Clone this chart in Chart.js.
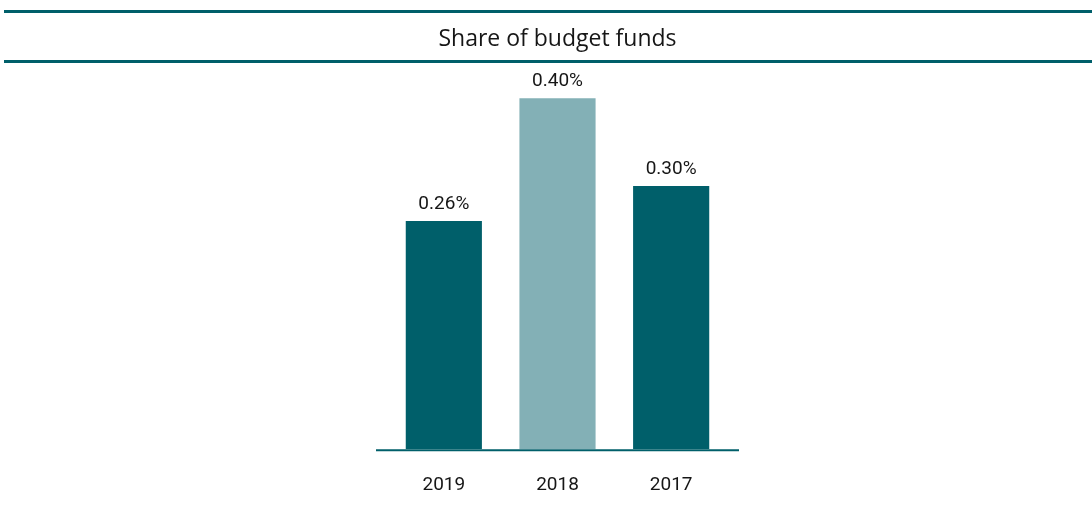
<!DOCTYPE html>
<html>
<head>
<meta charset="utf-8">
<script src="https://cdn.jsdelivr.net/npm/chart.js@4/dist/chart.umd.min.js"></script>
<style>
  html, body { margin: 0; padding: 0; background: #fff; }
  #wrap { width: 1092px; height: 525px; }
</style>
</head>
<body>
<div id="wrap"><canvas id="chart"></canvas></div>
<script>
const years = ['2019', '2018', '2017'];
const shares = [0.26, 0.40, 0.30];

const DARK = '#005f6a';
const LIGHT = '#83b0b6';
const TEXT = '#161616';

// teal rules above/below the title and the short baseline under the bars
const rules = {
    id: 'rules',
    afterDraw(chart) {
        const { ctx, chartArea, scales } = chart;
        ctx.save();
        ctx.strokeStyle = DARK;
        ctx.lineWidth = 3;
        [11.5, 61.5].forEach((y) => {
            ctx.beginPath();
            ctx.moveTo(4, y);
            ctx.lineTo(chart.width, y);
            ctx.stroke();
        });
        const y0 = scales.y.getPixelForValue(0);
        ctx.lineWidth = 2;
        ctx.beginPath();
        ctx.moveTo(chartArea.left - 11, y0 + 1);
        ctx.lineTo(chartArea.right + 11, y0 + 1);
        ctx.stroke();
        ctx.restore();
    },
};

// percentage labels above each bar
const valueLabels = {
    id: 'valueLabels',
    afterDatasetsDraw(chart) {
        const { ctx } = chart;
        const meta = chart.getDatasetMeta(0);
        ctx.save();
        ctx.font = '19px Roboto';
        ctx.fillStyle = TEXT;
        ctx.textAlign = 'center';
        ctx.textBaseline = 'middle';
        meta.data.forEach((bar, i) => {
            ctx.fillText(shares[i].toFixed(2) + '%', bar.x, bar.y - 17);
        });
        ctx.restore();
    },
};

new Chart(document.getElementById('chart'), {
    type: 'bar',
    data: {
        labels: years,
        datasets: [
            {
                data: shares,
                backgroundColor: [DARK, LIGHT, DARK],
                barPercentage: 0.67,
                categoryPercentage: 1,
            },
        ],
    },
    options: {
        responsive: true,
        maintainAspectRatio: false,
        animation: false,
        layout: {
            padding: { left: 387, right: 364, top: 0, bottom: 3 },
        },
        plugins: {
            legend: { display: false },
            tooltip: { enabled: false },
            title: {
                display: true,
                text: 'Share of budget funds',
                color: TEXT,
                font: { family: 'Open Sans', size: 23, weight: 'normal' },
                padding: { top: 26, bottom: 27 },
            },
        },
        scales: {
            x: {
                grid: { display: false, drawTicks: false },
                border: { display: false },
                ticks: {
                    color: TEXT,
                    font: { family: 'Roboto', size: 19 },
                    padding: 25,
                },
            },
            y: {
                display: false,
                min: 0,
                max: 0.42,
            },
        },
    },
    plugins: [rules, valueLabels],
});
</script>
</body>
</html>
